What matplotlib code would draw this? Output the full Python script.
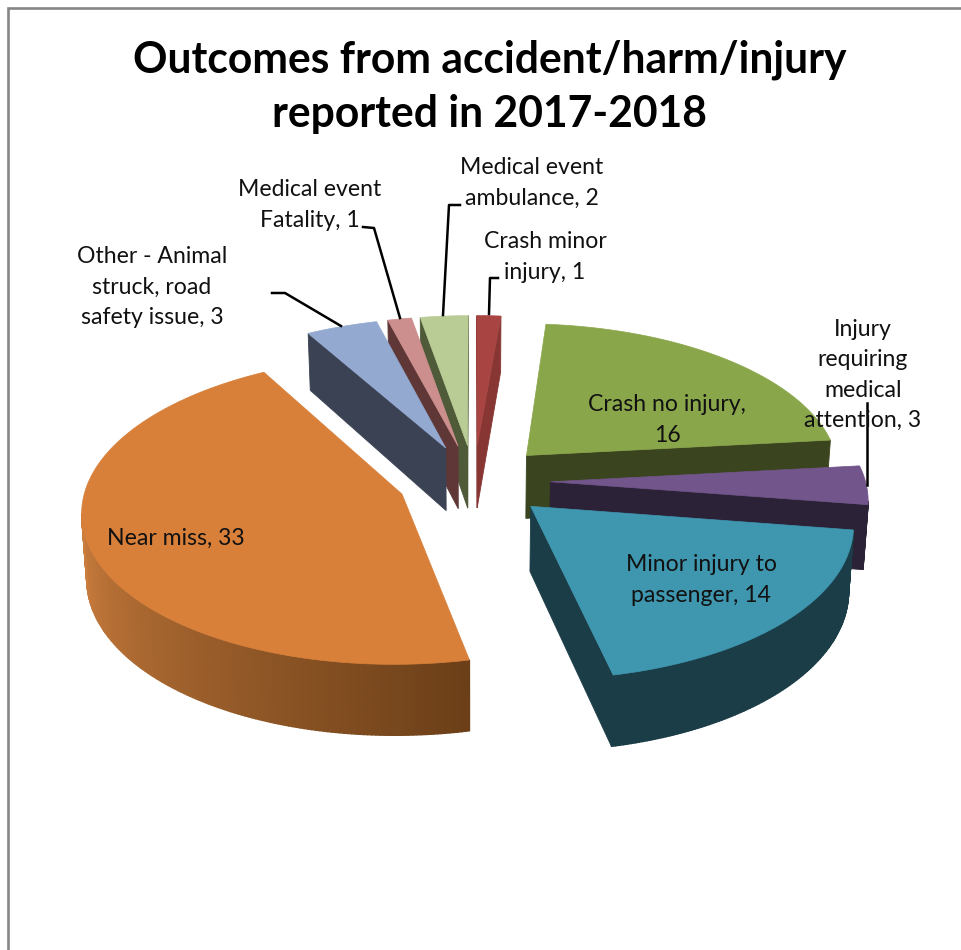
#!/usr/bin/env python3
"""Exploded 3D-look pie of accident/harm/injury outcomes, drawn from flat polygons."""

import numpy as np
import matplotlib
matplotlib.use('Agg')
import matplotlib.pyplot as plt
from matplotlib.colors import to_rgb
from matplotlib.patches import Polygon

TITLE = 'Outcomes from accident/harm/injury\nreported in 2017-2018'
LABELS = ['Crash minor\ninjury, {}', 'Crash no injury,\n{}',
          'Injury\nrequiring\nmedical\nattention, {}',
          'Minor injury to\npassenger, {}', 'Near miss, {}',
          'Other - Animal\nstruck, road\nsafety issue, {}',
          'Medical event\nFatality, {}', 'Medical event\nambulance, {}']
VALUES = [1, 16, 3, 14, 33, 3, 1, 2]

TOP_COLORS = ['#a84542', '#8aa64b', '#71558b', '#3f96af',
              '#d8803a', '#93a9cf', '#cc8f8d', '#b9cc95']
FACE_COLORS = ['#873633', '#3a441e', '#2c2238', '#1b3d48',
               '#6b3f18', '#3a4254', '#5e3736', '#4e5a38']
# outer wall colour at the clockwise start and end of the visible rim
WALL_START = ['#873633', '#3a441e', '#2c2238', '#1b3d48',
              '#6b3f18', '#3a4254', '#5e3736', '#4e5a38']
WALL_END = ['#873633', '#3a441e', '#2c2238', '#1b3d48',
            '#cc7e3e', '#3a4254', '#5e3736', '#4e5a38']

# slices are painted back to front, by index
PAINT_ORDER = [0, 7, 6, 5, 1, 2, 4, 3]
LABEL_POS = [(545, 257), (667, 420), (863, 375), (701, 580),
             (176, 538), (152, 287), (310, 205), (532, 183)]
LEADERS = [[(498, 278), (490, 278), (489, 314)],
           [(867, 403), (867, 485)],
           [(272, 293), (285, 293), (341, 326)],
           [(363, 227), (374, 228), (400, 318)],
           [(460, 205), (449, 205), (443, 315)]]

CX, CY = 474, 481
RX, RY = 315, 150
PERSP = 0.102
EXPLODE = 0.2425
DEPTH = 64


def project(u, v):
   s = 1 / (1 - PERSP * v)
   return CX + RX * u * s, CY + RY * v * s


def drop(pt, v):
   # same point on the underside of the disc
   return CX + (pt[0] - CX) * 0.987, pt[1] + DEPTH * (1 + 0.1 * v)


def draw_quad(ax, a, b, va, vb, color, z, lw=0.6):
   quad = [a, b, drop(b, vb), drop(a, va)]
   ax.add_patch(Polygon(quad, closed=True, facecolor=color, edgecolor=color,
                        linewidth=lw, zorder=z))


def draw_slice(ax, start, end, top, face, wall0, wall1, z):
   mid = (start + end) / 2
   ou, ov = EXPLODE * np.sin(mid), -EXPLODE * np.cos(mid)
   th = np.linspace(start, end, max(int(np.degrees(end - start) * 1.5), 4))
   us = ou + np.sin(th)
   vs = ov - np.cos(th)
   tip = project(ou, ov)
   rim = [project(u, v) for u, v in zip(us, vs)]

   # side faces first, only those that turn to the viewer (moving left clockwise)
   if rim[0][0] < tip[0]:
      draw_quad(ax, tip, rim[0], ov, vs[0], face, z)
   if tip[0] < rim[-1][0]:
      draw_quad(ax, rim[-1], tip, vs[-1], ov, face, z)
   c0, c1 = np.array(to_rgb(wall0)), np.array(to_rgb(wall1))
   visible = [i for i in range(len(rim) - 1) if rim[i + 1][0] < rim[i][0]]
   for n, i in enumerate(visible):
      t = n / max(len(visible) - 1, 1)
      draw_quad(ax, rim[i], rim[i + 1], vs[i], vs[i + 1],
                tuple(c0 + (c1 - c0) * t), z, lw=1.0)

   ax.add_patch(Polygon([tip] + rim, closed=True, facecolor=top, edgecolor=top,
                        linewidth=0.5, zorder=z + 0.5))


def gen():
   fig = plt.figure(figsize=(9.61, 9.5), dpi=100)
   ax = fig.add_axes([0, 0, 1, 1])
   ax.set_xlim(0, 961)
   ax.set_ylim(950, 0)
   ax.axis('off')

   # chart frame runs off the crop at the right and bottom
   ax.plot([7.5, 7.5, 961], [950, 8, 8], color='#868686', linewidth=1.9,
           solid_joinstyle='miter')

   edges = np.concatenate([[0], np.cumsum(VALUES)]) / sum(VALUES) * 2 * np.pi
   for order, i in enumerate(PAINT_ORDER):
      draw_slice(ax, edges[i], edges[i + 1], TOP_COLORS[i], FACE_COLORS[i],
                 WALL_START[i], WALL_END[i], 2 + order)

   for line in LEADERS:
      xs, ys = zip(*line)
      ax.plot(xs, ys, color='black', linewidth=1.8, zorder=20)

   for text, val, (x, y) in zip(LABELS, VALUES, LABEL_POS):
      ax.text(x, y, text.format(val), ha='center', va='center', color='#111111',
              fontsize=16.6, family='Lato', linespacing=1.55, zorder=21)

   ax.text(490, 87, TITLE, ha='center', va='center', color='black', fontsize=30.7,
           fontweight='bold', family='Lato', linespacing=1.42, zorder=21)

   fig.savefig('out.png', dpi=100)
   plt.close(fig)


if __name__ == '__main__':
   gen()
